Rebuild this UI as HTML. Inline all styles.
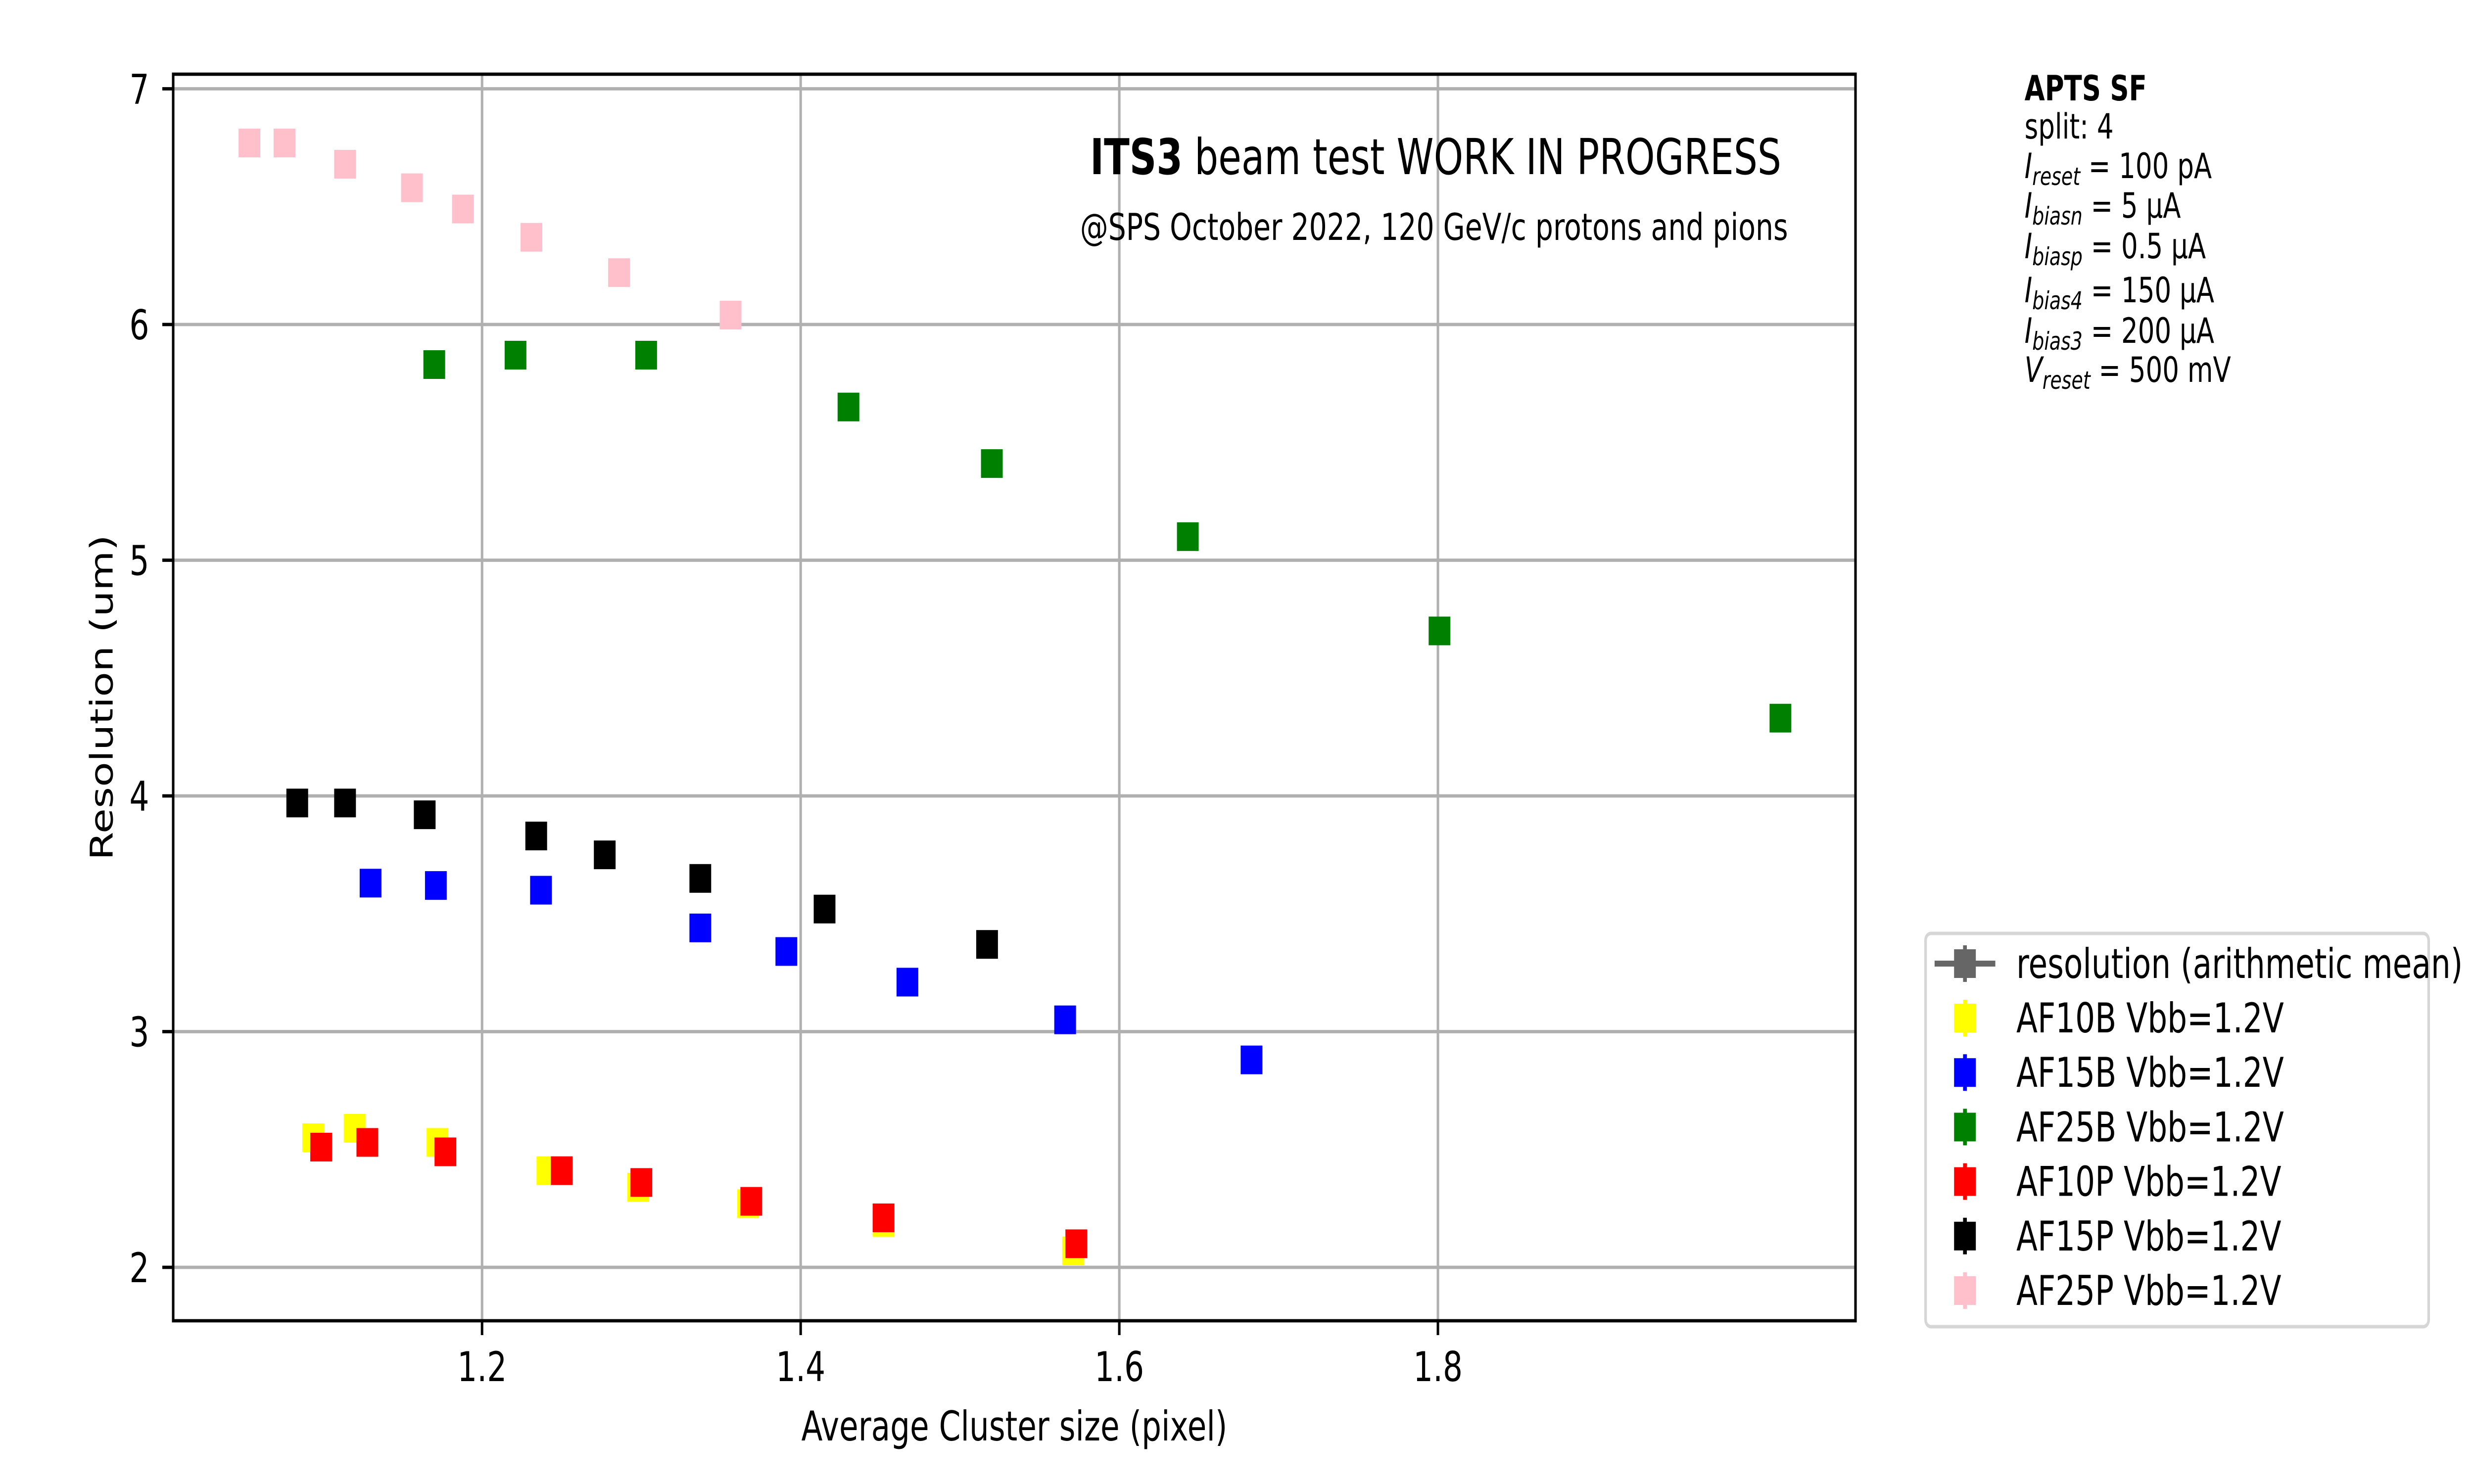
<!DOCTYPE html>
<html><head><meta charset="utf-8"><style>
html,body{margin:0;padding:0;background:#fff;overflow:hidden;width:100vw;height:100vh;}
svg{display:block;font-family:"DejaVu Sans","Liberation Sans",sans-serif;width:100vw;height:100vh;}
</style></head><body>
<svg id="chart" viewBox="0 0 6600 3000" preserveAspectRatio="none" xmlns="http://www.w3.org/2000/svg">
<rect x="0" y="0" width="6600" height="3000" fill="#fff"/>
<g id="grid"></g>
<g id="marks"></g>
<rect x="462" y="150" width="4488" height="2520" fill="none" stroke="#000" stroke-width="6.7"/>
<g id="ticks"></g>
<text x="2706" y="2912" font-size="83" text-anchor="middle">Average Cluster size (pixel)</text>
<text x="300" y="1410" font-size="83" text-anchor="middle" transform="rotate(-90 300 1410)">Resolution (um)</text>
<text x="4752" y="352" font-size="100" text-anchor="end"><tspan font-weight="bold">ITS3</tspan> beam test WORK IN PROGRESS</text>
<text x="4770" y="485" font-size="75" text-anchor="end">@SPS October 2022, 120 GeV/c protons and pions</text>
<g font-size="70">
<text x="5401" y="203" font-weight="bold">APTS SF</text>
<text x="5401" y="280">split:  4</text>
<text x="5401" y="360"><tspan font-style="italic">I</tspan><tspan font-style="italic" font-size="50" dy="14">reset</tspan><tspan dy="-14"> = 100 pA</tspan></text>
<text x="5401" y="440"><tspan font-style="italic">I</tspan><tspan font-style="italic" font-size="50" dy="14">biasn</tspan><tspan dy="-14"> = 5 μA</tspan></text>
<text x="5401" y="522"><tspan font-style="italic">I</tspan><tspan font-style="italic" font-size="50" dy="14">biasp</tspan><tspan dy="-14"> = 0.5 μA</tspan></text>
<text x="5401" y="611"><tspan font-style="italic">I</tspan><tspan font-style="italic" font-size="50" dy="14">bias4</tspan><tspan dy="-14"> = 150 μA</tspan></text>
<text x="5401" y="693"><tspan font-style="italic">I</tspan><tspan font-style="italic" font-size="50" dy="14">bias3</tspan><tspan dy="-14"> = 200 μA</tspan></text>
<text x="5401" y="772"><tspan font-style="italic">V</tspan><tspan font-style="italic" font-size="50" dy="14">reset</tspan><tspan dy="-14"> = 500 mV</tspan></text>
</g>
<g id="legend">
<rect x="5137" y="1887" width="1342" height="795" rx="14" fill="#fff" stroke="#d6d6d6" stroke-width="7"/>
</g>
</svg>
<script>
const xTicks = [1.2, 1.4, 1.6, 1.8];
const yTicks = [2, 3, 4, 5, 6, 7];
const seriesNames = ["AF10B Vbb=1.2V","AF15B Vbb=1.2V","AF25B Vbb=1.2V","AF10P Vbb=1.2V","AF15P Vbb=1.2V","AF25P Vbb=1.2V"];
const seriesColors = ["#ffff00","#0000ff","#008000","#ff0000","#000000","#ffc0cb"];
const af10bX = [1.094,1.120,1.172,1.241,1.298,1.367,1.452,1.571];
const af10bY = [2.55,2.59,2.53,2.41,2.34,2.27,2.19,2.07];
const af15bX = [1.130,1.171,1.237,1.337,1.391,1.467,1.566,1.683];
const af15bY = [3.63,3.62,3.60,3.44,3.34,3.21,3.05,2.88];
const af25bX = [1.170,1.221,1.303,1.430,1.520,1.643,1.801,2.015];
const af25bY = [5.83,5.87,5.87,5.65,5.41,5.10,4.70,4.33];
const af10pX = [1.099,1.128,1.177,1.250,1.300,1.369,1.452,1.573];
const af10pY = [2.51,2.53,2.49,2.41,2.36,2.28,2.21,2.10];
const af15pX = [1.084,1.114,1.164,1.234,1.277,1.337,1.415,1.517];
const af15pY = [3.97,3.97,3.92,3.83,3.75,3.65,3.52,3.37];
const af25pX = [1.054,1.076,1.114,1.156,1.188,1.231,1.286,1.356];
const af25pY = [6.77,6.77,6.68,6.58,6.49,6.37,6.22,6.04];

const NS = "http://www.w3.org/2000/svg";
const X0 = 462, X1 = 4950, Y0 = 150, Y1 = 2670;
function xs(v){ return 1286 + (v - 1.2) * 4250; }
function ys(v){ return 179.5 + (7 - v) * 476.5; }
function mk(tag, attrs, parent){ const e = document.createElementNS(NS, tag); for (const k in attrs) e.setAttribute(k, attrs[k]); parent.appendChild(e); return e; }

const grid = document.getElementById('grid');
const ticks = document.getElementById('ticks');
xTicks.forEach(t => {
  const gl = mk('line', {x1: xs(t), x2: xs(t), y1: Y0, y2: Y1, stroke: '#b0b0b0', 'stroke-width': 6.7}, grid);
  
  
  const tk = mk('line', {x1: xs(t), x2: xs(t), y1: Y1, y2: Y1 + 29, stroke: '#000', 'stroke-width': 6.7}, ticks);
  
  
  const tl = mk('text', {x: xs(t), y: 2792, 'font-size': 83, 'text-anchor': 'middle'}, ticks);
  tl.textContent = t.toFixed(1);
  
  
});
yTicks.forEach(t => {
  const gl = mk('line', {x1: X0, x2: X1, y1: ys(t), y2: ys(t), stroke: '#b0b0b0', 'stroke-width': 6.7}, grid);
  
  
  const tk = mk('line', {x1: X0 - 29, x2: X0, y1: ys(t), y2: ys(t), stroke: '#000', 'stroke-width': 6.7}, ticks);
  
  
  const tl = mk('text', {x: 398, y: ys(t) + 30, 'font-size': 83, 'text-anchor': 'end'}, ticks);
  tl.textContent = String(t);
  
  
});

const marks = document.getElementById('marks');
const allX = [af10bX, af15bX, af25bX, af10pX, af15pX, af25pX];
const allY = [af10bY, af15bY, af25bY, af10pY, af15pY, af25pY];
const S = 58;
allX.forEach((xa, si) => {
  const g = mk('g', {}, marks);
  
  
  xa.forEach((xv, i) => {
    const r = mk('rect', {x: xs(xv) - S/2, y: ys(allY[si][i]) - S/2, width: S, height: S, fill: seriesColors[si]}, g);
    
    
  });
});

const legend = document.getElementById('legend');
const mx = 5242;
const e0 = mk('g', {}, legend);


mk('line', {x1: 5161, x2: 5323, y1: 1948, y2: 1948, stroke: '#666', 'stroke-width': 12}, e0);
mk('rect', {x: mx - 29, y: 1919, width: 58, height: 58, fill: '#666'}, e0);
mk('line', {x1: mx, x2: mx, y1: 1911, y2: 1985, stroke: '#666', 'stroke-width': 10}, e0);
const t0 = mk('text', {x: 5379, y: 1977, 'font-size': 83}, e0);
t0.textContent = 'resolution (arithmetic mean)';
seriesNames.forEach((n, i) => {
  const cy = 2058 + i * 110.2;
  const g = mk('g', {}, legend);
  
  
  mk('line', {x1: mx, x2: mx, y1: cy - 37, y2: cy + 37, stroke: seriesColors[i], 'stroke-width': 10}, g);
  mk('rect', {x: mx - 29, y: cy - 29, width: 58, height: 58, fill: seriesColors[i]}, g);
  const t = mk('text', {x: 5379, y: cy + 29, 'font-size': 83}, g);
  t.textContent = n;
});
</script>
</body></html>
